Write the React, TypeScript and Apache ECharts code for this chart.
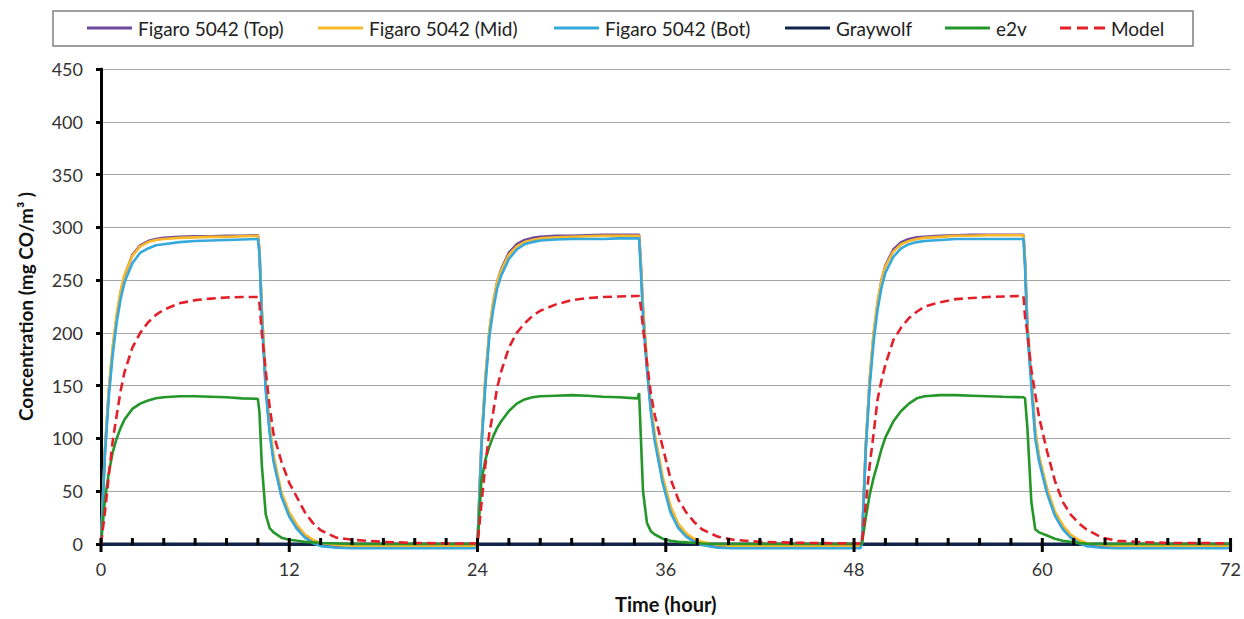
import React, { useEffect, useRef } from "react";
import * as echarts from "echarts";

// Time (hour) sample points, shared by the sensor series
const hours = [
  0, 0.25, 0.5, 0.75, 1, 1.25, 1.5, 2, 2.5, 3, 3.5, 4, 5, 6, 7, 8, 9, 10, 10.1, 10.25,
  10.5, 10.75, 11, 11.5, 12, 12.5, 13, 13.5, 14, 15, 16, 18, 20, 22, 23.9,
  24, 24.25, 24.5, 24.75, 25, 25.25, 25.5, 26, 26.5, 27, 27.5, 28, 29, 30, 31, 32, 33, 34.2, 34.3, 34.4,
  34.55, 34.8, 35.05, 35.3, 35.8, 36.3, 36.8, 37.3, 37.8, 38.3, 39.3, 40.3, 42, 45, 48.4,
  48.5, 48.75, 49, 49.25, 49.5, 49.75, 50, 50.5, 51, 51.5, 52, 52.5, 53.5, 54.5, 55.5, 56.5, 57.5, 58.8, 58.9, 59.05,
  59.3, 59.55, 59.8, 60.3, 60.8, 61.3, 61.8, 62.3, 62.8, 63.8, 64.8, 66, 68, 70, 72,
];

const figaroTop = [
  0, 88, 145, 185, 215, 238, 254, 274, 283, 287, 289, 290, 291, 291.5, 291.5, 292, 292, 292.5, 278, 220,
  150, 108, 80, 46, 27, 15, 7, 2, -1, -2.5, -3, -3, -3, -3, -3,
  0, 95, 155, 200, 228, 248, 260, 276, 284, 288, 290, 291, 292, 292, 292.5, 293, 293, 293, 293, 268,
  222, 168, 128, 100, 60, 32, 16, 8, 3, 0, -2, -3, -3, -3, -3,
  0, 93, 155, 198, 228, 250, 264, 279, 286, 289, 290.5, 291, 292, 292.5, 293, 293, 293, 293, 268, 205,
  155, 105, 80, 50, 28, 15, 7, 2, -1, -3, -3, -3, -3, -3, -3,
];

const figaroMid = [
  0, 90, 148, 188, 218, 240, 255, 273, 282, 286, 288, 289, 290, 290.5, 291, 291, 291.5, 292, 279, 224,
  155, 112, 84, 49, 30, 18, 9, 4, 1, -1, -2, -2, -2, -2, -2,
  0, 97, 158, 202, 230, 248, 259, 274, 282, 286, 288, 289.5, 290.5, 291, 291.5, 292, 292, 292, 292, 270,
  225, 172, 132, 104, 64, 36, 19, 10, 5, 2, -1, -2, -2, -2, -2,
  0, 95, 158, 201, 230, 250, 263, 277, 284, 287, 289, 290, 291, 292, 292, 292.5, 292.5, 292.5, 270, 208,
  158, 108, 83, 53, 31, 18, 9, 4, 1, -1, -2, -2, -2, -2, -2,
];

const figaroBot = [
  0, 85, 140, 180, 210, 232, 248, 266, 276, 280, 283, 284, 286, 287, 287.5, 288, 288.5, 289, 275, 215,
  145, 105, 78, 45, 26, 14, 6, 1, -2, -3.5, -4, -4, -4, -4, -4,
  0, 92, 150, 196, 222, 242, 254, 270, 279, 284, 286, 287.5, 288.5, 289, 289, 289, 289.5, 289.5, 289.5, 262,
  215, 165, 125, 97, 58, 30, 15, 7, 2, -1, -3.5, -4, -4, -4, -4,
  0, 90, 150, 192, 222, 243, 257, 272, 280, 284, 286, 287, 288, 289, 289, 289, 289, 289, 262, 200,
  150, 100, 78, 48, 27, 14, 6, 1, -2, -3.5, -4, -4, -4, -4, -4,
];

const e2v = [
  0, 42, 68, 87, 100, 110, 118, 128, 133, 136, 138, 139, 140, 140, 139.5, 139, 138, 137.5, 125, 75,
  28, 15, 11, 6, 4, 3, 2, 1.5, 1, 0.5, 0, 0, 0, 0, 0,
  0, 60, 80, 92, 102, 110, 116, 126, 133, 137, 139, 140, 140.5, 141, 140.5, 139.5, 139, 138, 143, 105,
  50, 20, 12, 9, 5, 3, 2, 1.5, 1, 0.5, 0, 0, 0, 0, 0,
  0, 25, 47, 63, 76, 90, 101, 116, 126, 133, 138, 140, 141, 141, 140.5, 140, 139.5, 139, 138, 110,
  40, 14, 11, 8, 5, 3, 2, 1, 0.5, 0, 0, 0, 0, 0, 0,
];

const model = [
  0, 30, 65, 98, 122, 145, 163, 186, 200, 210, 217, 222, 228, 231, 232.5, 233.5, 234, 234, 228, 200,
  164, 130, 104, 78, 58, 44, 30, 20, 13, 6, 4, 2, 1, 0.5, 0.5,
  0, 38, 75, 105, 125, 148, 163, 186, 200, 209, 216, 221, 227, 231, 233, 234, 234.5, 235, 235, 226,
  205, 172, 142, 122, 92, 62, 42, 30, 21, 14, 7, 4, 2, 1, 0.5,
  0, 38, 75, 105, 137, 155, 170, 193, 205, 214, 220, 225, 229, 232, 233, 234, 234.5, 235, 215, 200,
  165, 142, 120, 88, 60, 40, 28, 20, 14, 6, 3, 2, 1, 1, 0.5,
];

const graywolfHours = [0, 72];
const graywolf = [0, 0];

const seriesNames = [
  "Figaro 5042 (Top)",
  "Figaro 5042 (Mid)",
  "Figaro 5042 (Bot)",
  "Graywolf",
  "e2v",
  "Model",
];
const seriesColors = ["#6E4A9E", "#F9B82A", "#35A8DC", "#13244A", "#24962A", "#E3202A"];
const legendLeft = [87, 318, 554, 785, 945, 1060];

const X_MIN = 0;
const X_MAX = 72;
const X_MAJOR = 12;
const X_MINOR = 2;

const FONT = "Lato, 'Open Sans', sans-serif";

const SOLID_ICON = "path://M0,0H45V3H0Z";
const DASH_ICON = "path://M0,0H11V3H0Z M17,0H28V3H17Z M34,0H45V3H34Z";

const pairs = (xs: number[], ys: number[]) => xs.map((x, i) => [x, ys[i]]);

export default function App() {
  const ref = useRef<HTMLDivElement>(null);

  useEffect(() => {
    if (!ref.current) return;
    const chart = echarts.init(ref.current, null, { renderer: "svg" });

    const dataSets = [
      pairs(hours, figaroTop),
      pairs(hours, figaroMid),
      pairs(hours, figaroBot),
      pairs(graywolfHours, graywolf),
      pairs(hours, e2v),
      pairs(hours, model),
    ];

    const series: any[] = seriesNames.map((name, i) => ({
      name,
      type: "line",
      data: dataSets[i],
      showSymbol: false,
      symbol: "none",
      smooth: false,
      clip: false,
      color: seriesColors[i],
      lineStyle: {
        color: seriesColors[i],
        width: i === 3 ? 3 : 2.6,
        type: i === 5 ? [9, 5] : "solid",
      },
      z: i === 3 ? 1 : 2 + i,
    }));

    const legends = seriesNames.map((name, i) => ({
      data: [{ name, icon: i === 5 ? DASH_ICON : SOLID_ICON }],
      left: legendLeft[i],
      top: 17,
      padding: 0,
      itemWidth: 45,
      itemHeight: 3,
      itemGap: 0,
      itemStyle: { color: seriesColors[i], borderWidth: 0 },
      textStyle: { fontFamily: FONT, fontSize: 19, color: "#222", lineHeight: 22, padding: [0, 0, 0, 1] },
      selectedMode: false,
    }));

    const legendBox = {
      type: "rect",
      id: "legendBox",
      shape: { x: 53, y: 11, width: 1140, height: 35 },
      style: { fill: "none", stroke: "#808080", lineWidth: 1.5 },
      z: 0,
    };

    chart.setOption({
      animation: false,
      backgroundColor: "#ffffff",
      legend: legends,
      graphic: [legendBox],
      grid: { left: 101, right: 12, top: 69, bottom: 71, containLabel: false },
      xAxis: {
        type: "value",
        min: X_MIN,
        max: X_MAX,
        interval: X_MAJOR,
        name: "Time (hour)",
        nameLocation: "middle",
        nameGap: 50,
        nameTextStyle: { fontFamily: FONT, fontSize: 20, fontWeight: "bold", color: "#111" },
        axisLine: { show: true, onZero: false, lineStyle: { color: "#13244A", width: 3 } },
        axisTick: { show: false },
        axisLabel: { fontFamily: FONT, fontSize: 18, color: "#333", margin: 16 },
        splitLine: { show: false },
      },
      yAxis: {
        type: "value",
        min: 0,
        max: 450,
        interval: 50,
        name: "Concentration (mg CO/m³ )",
        nameLocation: "middle",
        nameGap: 66,
        nameRotate: 90,
        nameTextStyle: { fontFamily: FONT, fontSize: 19, fontWeight: "bold", color: "#111" },
        axisLine: { show: true, lineStyle: { color: "#000", width: 3 } },
        axisTick: { show: true, inside: false, length: 5, lineStyle: { color: "#000", width: 3 } },
        axisLabel: { fontFamily: FONT, fontSize: 18, color: "#333", margin: 18 },
        splitLine: { show: true, lineStyle: { color: "#A6A6A6", width: 1.2 } },
      },
      series,
    });

    // Tick marks on the time axis, placed through the chart's own scale
    const ticks: any[] = [];
    for (let h = X_MIN; h <= X_MAX; h += X_MINOR) {
      const p = chart.convertToPixel({ xAxisIndex: 0, yAxisIndex: 0 }, [h, 0]) as number[];
      const major = h % X_MAJOR === 0;
      ticks.push({
        type: "line",
        shape: { x1: p[0], y1: p[1] - 6, x2: p[0], y2: p[1] + (major ? 8 : 1) },
        style: { stroke: "#000", lineWidth: 3 },
        z: 50,
      });
    }
    chart.setOption({ graphic: [legendBox, ...ticks] });

    return () => chart.dispose();
  }, []);

  return (
    <div
      ref={ref}
      style={{ position: "absolute", left: 0, top: 0, width: 1244, height: 619, background: "#fff" }}
    />
  );
}
